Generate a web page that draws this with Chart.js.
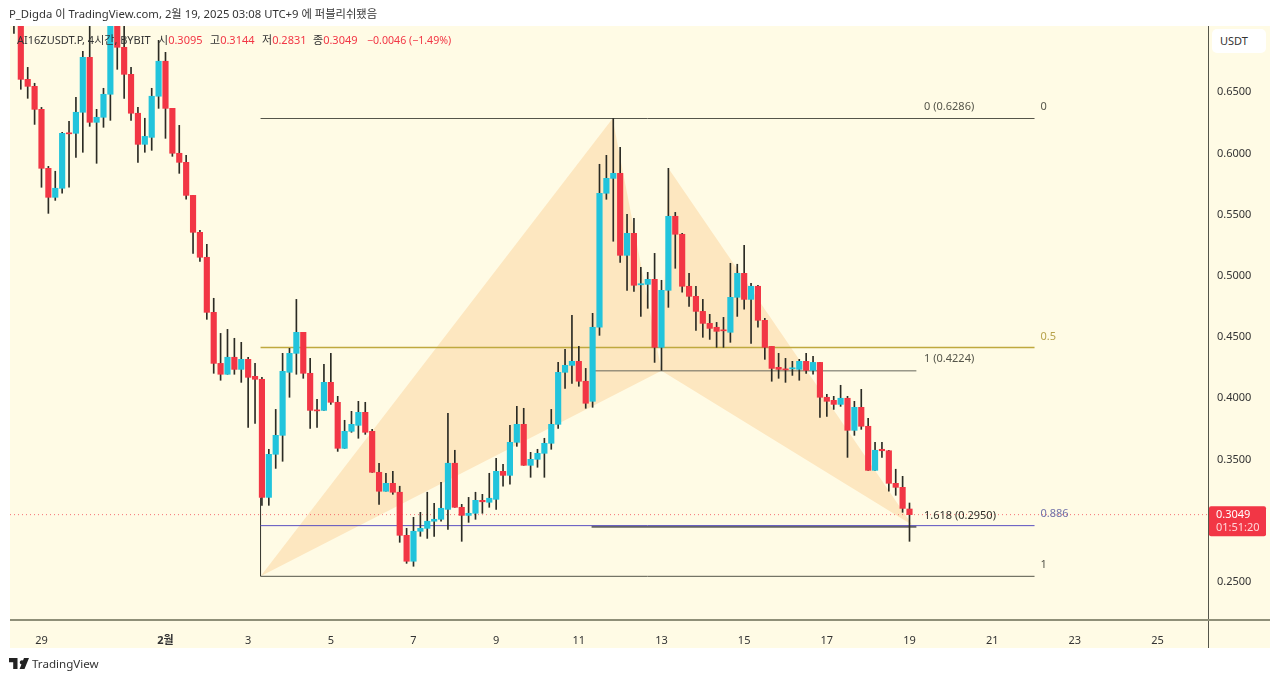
<!DOCTYPE html>
<html lang="ko">
<head>
<meta charset="utf-8">
<title>AI16ZUSDT.P</title>
<script src="https://cdn.jsdelivr.net/npm/chart.js@4/dist/chart.umd.min.js"></script>
<style>
  html, body { margin: 0; padding: 0; background: #fff; width: 1280px; height: 681px; overflow: hidden; }
  body { font-family: "Noto Sans", "Noto Sans CJK KR", sans-serif; color: #333; position: relative; }
  #pane { position: absolute; left: 10px; top: 26px; width: 1260px; height: 622px; background: #fffbe5; }
  #axisV { position: absolute; left: 1208px; top: 26px; width: 1px; height: 622px; background: #55554a; }
  #axisH { position: absolute; left: 10px; top: 619px; width: 1260px; height: 2px; background: #8f8f78; }
  #chart { position: absolute; left: 0; top: 0; }
  #title { position: absolute; left: 9px; top: 6px; font-size: 11.3px; line-height: 16px; white-space: nowrap; }
  #legend { position: absolute; left: 17px; top: 32px; font-size: 11px; line-height: 16px; white-space: nowrap; color: #333; }
  #legend b { font-weight: 400; color: #f23645; }
  #legend span { position: absolute; top: 0; white-space: nowrap; }
  #unit { position: absolute; left: 1212px; top: 29px; width: 54px; height: 24px; line-height: 24px; background: #fff; border-radius: 5px; font-size: 11px; text-indent: 8px; }
  #brand { position: absolute; left: 9px; top: 656px; height: 16px; }
  #brand svg { position: absolute; left: 0; top: 2px; }
  #brand span { position: absolute; left: 23px; top: 0; font-size: 11.6px; line-height: 16px; color: #333; }
</style>
</head>
<body>
<div id="pane"></div>
<div id="axisV"></div>
<div id="axisH"></div>
<canvas id="chart" width="1280" height="681"></canvas>
<div id="title">P_Digda 이 TradingView.com, 2월 19, 2025 03:08 UTC+9 에 퍼블리쉬됐음</div>
<div id="legend">
  <span style="left:0">AI16ZUSDT.P, 4시간, BYBIT</span>
  <span style="left:141px">시<b>0.3095</b></span>
  <span style="left:193px">고<b>0.3144</b></span>
  <span style="left:245px">저<b>0.2831</b></span>
  <span style="left:296px">종<b>0.3049</b></span>
  <span style="left:350px;font-size:10.6px"><b>−0.0046 (−1.49%)</b></span>
</div>
<div id="unit">USDT</div>
<div id="brand">
  <svg width="20" height="11" viewBox="0 0 20 11"><path fill="#222" d="M0 0H8.5V11H4.2V4.2H0ZM13 2.2a2.2 2.2 0 1 1-.01 0ZM15 0H20L15.5 11H10.6Z"/></svg>
  <span>TradingView</span>
</div>

<script>
// 4h candles, oldest first
var opens = [
  .7400, .7200, .6606, .6549, .6361, .5879, .5642, .5716, .6169, .6165,
  .6337, .6786, .6255, .6296, .6484, .7200, .6868, .6647, .6329, .6075,
  .6132, .6468, .6754, .6369, .6002, .5928, .5658, .5356, .5152, .4702,
  .4285, .4196, .4335, .4236, .4318, .4179, .4155, .3190, .3542, .3697,
  .4212, .4367, .4539, .4204, .3905, .3901, .4130, .3967, .3591, .3730,
  .3779, .3885, .3730, .3395, .3240, .3305, .3232, .2880, .2668, .2913,
  .2937, .2995, .3011, .3092, .3469, .3109, .3043, .3060, .3166, .3150,
  .3174, .3403, .3370, .3640, .3787, .3452, .3501, .3550, .3632, .3787,
  .4212, .4269, .4302, .4139, .3975, .4580, .5675, .5797, .5838, .5168,
  .5348, .4927, .4931, .4972, .4416, .4882, .5487, .5340, .4915, .4833,
  .4710, .4612, .4580, .4559, .4539, .4825, .5021, .4808, .4915, .4637,
  .4424, .4253, .4240, .4240, .4236, .4302, .4228, .4293, .4008, .3983,
  .3950, .4000, .3738, .3926, .3771, .3411, .3583, .3571, .3305, .3272,
  .3095
];
var highs = [
  .7500, .7300, .6704, .6574, .6377, .5895, .5855, .6173, .6263, .6459,
  .6835, .7072, .6361, .6533, .7350, .7300, .7088, .6704, .6377, .6288,
  .6533, .6925, .6827, .6369, .6230, .5985, .5658, .5372, .5258, .4817,
  .4530, .4563, .4490, .4457, .4335, .4285, .4171, .3583, .3909, .4367,
  .4408, .4808, .4539, .4326, .3991, .4277, .4367, .4016, .3820, .3893,
  .3975, .3967, .3746, .3469, .3387, .3403, .3281, .2937, .3027, .3068,
  .3232, .3142, .3313, .3877, .3575, .3133, .3190, .3232, .3215, .3387,
  .3509, .3460, .3779, .3934, .3918, .3558, .3583, .3673, .3909, .4293,
  .4400, .4678, .4424, .4244, .4694, .5912, .5985, .6286, .6051, .5503,
  .5470, .5070, .5029, .5184, .4964, .5879, .5519, .5348, .5021, .4915,
  .4808, .4686, .4620, .4661, .5103, .5095, .5250, .4940, .4923, .4653,
  .4424, .4367, .4326, .4302, .4318, .4367, .4343, .4293, .4032, .4016,
  .4106, .4016, .3975, .4073, .3836, .3640, .3640, .3575, .3420, .3362,
  .3144
];
var lows = [
  .6982, .6525, .6451, .6238, .5724, .5511, .5617, .5675, .5724, .5969,
  .6010, .6222, .5920, .6214, .6271, .6688, .6451, .6271, .5928, .6010,
  .6026, .6369, .6124, .5977, .5838, .5626, .5184, .5119, .4645, .4204,
  .4147, .4196, .4196, .4130, .3762, .3795, .3125, .3125, .3427, .3485,
  .4008, .4196, .4163, .3754, .3762, .3901, .3950, .3566, .3591, .3722,
  .3673, .3705, .3395, .3133, .3240, .3215, .2823, .2651, .2627, .2872,
  .2855, .2872, .2995, .2929, .3109, .2831, .2986, .3011, .3060, .3109,
  .3092, .3281, .3297, .3607, .3452, .3354, .3436, .3354, .3583, .3754,
  .4081, .4122, .4098, .3918, .3926, .4514, .5626, .5283, .5111, .4882,
  .4874, .4669, .4735, .4293, .4228, .4743, .5062, .4866, .4751, .4555,
  .4498, .4481, .4416, .4416, .4457, .4669, .4727, .4449, .4580, .4318,
  .4139, .4163, .4130, .4187, .4147, .4204, .4196, .3844, .3852, .3909,
  .3934, .3517, .3697, .3746, .3411, .3411, .3517, .3240, .3207, .3068,
  .2831
];
var closes = [
  .7200, .6606, .6549, .6361, .5879, .5642, .5716, .6165, .6161, .6337,
  .6786, .6255, .6296, .6484, .7200, .6868, .6647, .6329, .6075, .6140,
  .6468, .6754, .6369, .6002, .5928, .5658, .5356, .5152, .4702, .4285,
  .4196, .4335, .4236, .4318, .4171, .4155, .3190, .3542, .3697, .4220,
  .4367, .4539, .4204, .3901, .3897, .4130, .3967, .3591, .3730, .3787,
  .3885, .3722, .3395, .3240, .3305, .3232, .2880, .2668, .2913, .2937,
  .2995, .3011, .3101, .3469, .3109, .3043, .3060, .3166, .3154, .3183,
  .3403, .3370, .3640, .3787, .3452, .3501, .3550, .3632, .3787, .4212,
  .4269, .4302, .4139, .3959, .4580, .5675, .5797, .5838, .5168, .5348,
  .4923, .4936, .4972, .4416, .4882, .5487, .5340, .4915, .4833, .4710,
  .4612, .4571, .4547, .4551, .4825, .5021, .4808, .4915, .4637, .4416,
  .4244, .4236, .4232, .4249, .4302, .4228, .4293, .4008, .3975, .3950,
  .4000, .3738, .3926, .3771, .3411, .3575, .3571, .3305, .3272, .3100,
  .3049
];

// x axis ticks, as candle numbers
var dayTicks = [4, 22, 34, 46, 58, 70, 82, 94, 106, 118, 130, 142, 154, 166];
var dayLabels = ['29', '2월', '3', '5', '7', '9', '11', '13', '15', '17', '19', '21', '23', '25'];
var priceTicks = [0.65, 0.6, 0.55, 0.5, 0.45, 0.4, 0.35, 0.25];

// harmonic pattern points, as candle number and price
var patternX = [35.8, 86.9, 94, 95, 130.4];
var patternY = [0.2545, 0.6286, 0.4224, 0.5879, 0.2965];

// fib drawings
var fibOuterStart = 35.8;
var fibOuterEnd = 148.15;
var fibOuterPrices = [0.6286, 0.4415, 0.2959, 0.2545];
var fibInnerStart = 83.85;
var fibInnerEnd = 131;
var fibInnerPrices = [0.4224, 0.2950];
var lastPrice = 0.3049;
var countdown = '01:51:20';

var UP = '#22c4dc';
var DOWN = '#f23645';
var WICK = '#2b2b24';
var FONT = '"Noto Sans", "Noto Sans CJK KR", sans-serif';
var X_MIN = -0.57;
var X_MAX = 173.33;

function hLine(start, end, price, color, width) {
  return {
    type: 'line',
    data: [{ x: start, y: price }, { x: end, y: price }],
    borderColor: color,
    borderWidth: width,
    pointRadius: 0,
    order: 4
  };
}

function triangle(a, b, c) {
  return {
    type: 'line',
    data: [a, b, c].map(function (n) { return { x: patternX[n], y: patternY[n] }; }),
    borderWidth: 0,
    borderColor: 'rgba(0,0,0,0)',
    backgroundColor: '#fde7c0',
    fill: 'shape',
    pointRadius: 0,
    order: 6
  };
}

var candleColors = opens.map(function (o, i) { return closes[i] >= o ? UP : DOWN; });

var datasets = [
  {
    type: 'bar',
    data: opens.map(function (o, i) { return { x: i, y: [Math.min(o, closes[i]), Math.max(o, closes[i])] }; }),
    backgroundColor: candleColors,
    barThickness: 5.5,
    grouped: false,
    order: 1
  },
  {
    type: 'bar',
    data: highs.map(function (h, i) { return { x: i, y: [lows[i], h] }; }),
    backgroundColor: WICK,
    barThickness: 1,
    grouped: false,
    order: 2
  },
  triangle(0, 1, 2),
  triangle(2, 3, 4),
  hLine(fibOuterStart, fibOuterEnd, fibOuterPrices[0], '#55554a', 1),
  hLine(fibOuterStart, fibOuterEnd, fibOuterPrices[1], '#bfa93f', 1.5),
  hLine(fibOuterStart, fibOuterEnd, fibOuterPrices[2], '#5a4fc0', 1),
  hLine(fibOuterStart, fibOuterEnd, fibOuterPrices[3], '#55554a', 1),
  hLine(fibInnerStart, fibInnerEnd, fibInnerPrices[0], '#66665a', 1),
  hLine(fibInnerStart, fibInnerEnd, fibInnerPrices[1], '#66665f', 2),
  {
    // left edge of the outer fib
    type: 'line',
    data: [{ x: fibOuterStart, y: fibOuterPrices[3] }, { x: fibOuterStart, y: closes[36] }],
    borderColor: '#33332c',
    borderWidth: 1,
    pointRadius: 0,
    order: 4
  },
  {
    type: 'line',
    data: [{ x: X_MIN, y: lastPrice }, { x: X_MAX, y: lastPrice }],
    borderColor: 'rgba(242,54,69,0.7)',
    borderWidth: 1,
    borderDash: [1, 3],
    pointRadius: 0,
    order: 3
  }
];

// text on the drawings and the price badge on the axis
var annotations = {
  id: 'annotations',
  afterDatasetsDraw: function (chart) {
    var ctx = chart.ctx;
    var x = chart.scales.x;
    var y = chart.scales.y;

    function label(text, idx, price, dy, align, color) {
      ctx.font = '11px ' + FONT;
      ctx.fillStyle = color;
      ctx.textAlign = align;
      ctx.textBaseline = 'middle';
      ctx.fillText(text, x.getPixelForValue(idx), y.getPixelForValue(price) + dy);
    }

    label('0 (' + fibOuterPrices[0].toFixed(4) + ')', 139.4, fibOuterPrices[0], -12, 'right', '#55554a');
    label('0', 149, fibOuterPrices[0], -12, 'left', '#55554a');
    label('0.5', 149, fibOuterPrices[1], -11, 'left', '#b7a24a');
    label('0.886', 149, fibOuterPrices[2], -12, 'left', '#7070a8');
    label('1', 149, fibOuterPrices[3], -11, 'left', '#55554a');
    label('1 (' + fibInnerPrices[0].toFixed(4) + ')', 139.4, fibInnerPrices[0], -12, 'right', '#55554a');
    label('1.618 (' + fibInnerPrices[1].toFixed(4) + ')', 132.1, fibInnerPrices[1], -11, 'left', '#2f2f2a');

    var top = y.getPixelForValue(lastPrice) - 8.5;
    ctx.fillStyle = DOWN;
    ctx.beginPath();
    ctx.roundRect(1209, top, 57, 30, 2);
    ctx.fill();
    ctx.font = '11px ' + FONT;
    ctx.textAlign = 'left';
    ctx.textBaseline = 'middle';
    ctx.fillStyle = '#fff';
    ctx.fillText(lastPrice.toFixed(4), 1216, top + 8.5);
    ctx.fillStyle = '#ffd5d8';
    ctx.fillText(countdown, 1216, top + 22);
  }
};

new Chart(document.getElementById('chart').getContext('2d'), {
  type: 'bar',
  data: { datasets: datasets },
  plugins: [annotations],
  options: {
    responsive: false,
    animation: false,
    layout: { padding: { left: 10, top: 26, right: 10, bottom: 33 } },
    plugins: { legend: { display: false }, tooltip: { enabled: false } },
    scales: {
      x: {
        type: 'linear',
        offset: false,
        min: X_MIN,
        max: X_MAX,
        grid: { display: false, offset: false },
        border: { display: false },
        afterFit: function (scale) { scale.height = 28; },
        afterBuildTicks: function (scale) {
          scale.ticks = dayTicks.map(function (v) { return { value: v }; });
        },
        ticks: {
          autoSkip: false,
          maxRotation: 0,
          padding: 6,
          color: '#333',
          font: function (ctx) {
            var isMonth = ctx.tick && dayLabels[dayTicks.indexOf(ctx.tick.value)] === '2월';
            return { family: FONT, size: 11, weight: isMonth ? 'bold' : 'normal' };
          },
          callback: function (value) { return dayLabels[dayTicks.indexOf(value)]; }
        }
      },
      y: {
        type: 'linear',
        position: 'right',
        min: 0.2188,
        max: 0.7042,
        grid: { display: false },
        border: { display: false },
        afterFit: function (scale) { scale.width = 62; },
        afterBuildTicks: function (scale) {
          scale.ticks = priceTicks.map(function (v) { return { value: v }; });
        },
        ticks: {
          padding: 1,
          color: '#333',
          font: { family: FONT, size: 11 },
          callback: function (value) { return value.toFixed(4); }
        }
      }
    }
  }
});
</script>
</body>
</html>
